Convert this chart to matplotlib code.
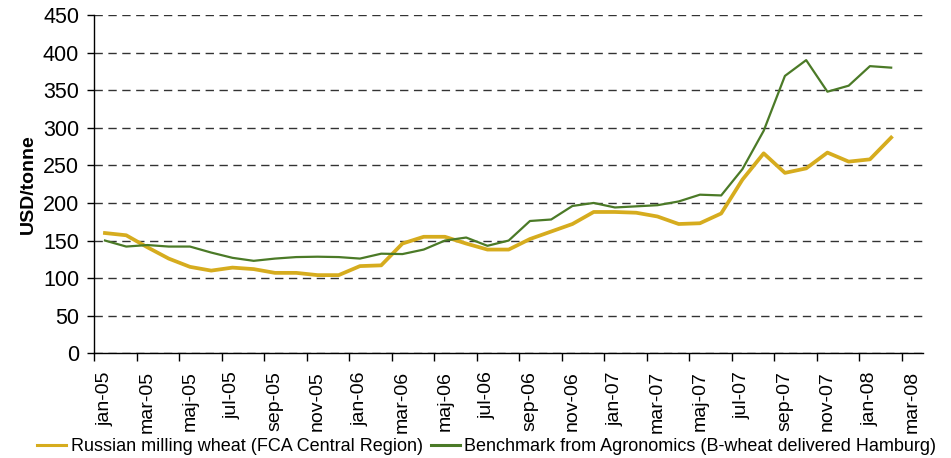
import numpy as np
import matplotlib
matplotlib.use("Agg")
import matplotlib.pyplot as plt

plt.rcParams['font.family'] = ['Liberation Sans', 'DejaVu Sans']

# one category per month, jan-05 .. mar-08 (mar-08 has no data)
categories = ['jan-05', 'feb-05', 'mar-05', 'apr-05', 'maj-05', 'jun-05', 'jul-05', 'aug-05',
              'sep-05', 'okt-05', 'nov-05', 'dec-05', 'jan-06', 'feb-06', 'mar-06', 'apr-06',
              'maj-06', 'jun-06', 'jul-06', 'aug-06', 'sep-06', 'okt-06', 'nov-06', 'dec-06',
              'jan-07', 'feb-07', 'mar-07', 'apr-07', 'maj-07', 'jun-07', 'jul-07', 'aug-07',
              'sep-07', 'okt-07', 'nov-07', 'dec-07', 'jan-08', 'feb-08', 'mar-08']

russian = [160, 157, 141, 126, 115, 110, 114, 112, 107, 107, 104, 104, 116, 117, 146, 155,
           155, 146, 138, 138, 152, 162, 172, 188, 188, 187, 182, 172, 173, 186, 231, 266,
           240, 246, 267, 255, 258, 287]
benchmark = [150, 142, 144, 142, 142, 134, 127, 123, 126, 128, 128.5, 128, 126, 132.5, 132, 138,
             150, 154, 143, 150, 176, 178, 196, 200, 194, 195.5, 197, 202, 211, 210, 245, 296,
             369, 390, 348, 356, 382, 380]

label_russian = 'Russian milling wheat (FCA Central Region)'
label_bench = 'Benchmark from Agronomics (B-wheat delivered Hamburg)'

fig = plt.figure(figsize=(9.51, 4.58), dpi=100)
ax = fig.add_axes([0.0992, 0.2286, 0.9706 - 0.0992, 0.9672 - 0.2286])

x = np.arange(len(russian))
ax.plot(x, russian, color='#D6AC1E', lw=2.7, label=label_russian, solid_joinstyle='round')
ax.plot(x, benchmark, color='#4B7A27', lw=1.6, label=label_bench)

ax.set_xlim(-0.5, len(categories) - 0.5)
ax.set_ylim(0, 450)
ax.set_yticks(np.arange(0, 451, 50))
ax.yaxis.grid(True, linestyle=(0, (6, 4)), color='#333333', lw=1)
ax.set_axisbelow(True)

# ticks between categories, labels centred on every second month
ax.set_xticks(np.arange(-0.5, len(categories) - 1, 2))
ax.set_xticklabels([])
ax.set_xticks(np.arange(0, len(categories), 2), minor=True)
ax.set_xticklabels(categories[::2], minor=True, rotation=90, fontsize=14)
ax.tick_params(axis='x', which='major', length=6, width=1, direction='out')
ax.tick_params(axis='x', which='minor', length=0, pad=13)
ax.tick_params(axis='y', length=5, width=1, pad=6, labelsize=15.5)

for side in ('top', 'right'):
    ax.spines[side].set_visible(False)
ax.spines['left'].set_linewidth(1)
ax.spines['bottom'].set_linewidth(1)

ax.set_ylabel('USD/tonne', fontsize=14, fontweight='bold', labelpad=4)

leg = fig.legend(loc='center', bbox_to_anchor=(0.512, 0.025), ncol=2, frameon=False,
                 fontsize=13, handlelength=1.6, handletextpad=0.25, columnspacing=0.45,
                 borderaxespad=0)
for line in leg.get_lines():
    line.set_linewidth(2.2)

fig.savefig('out.png', dpi=100)
